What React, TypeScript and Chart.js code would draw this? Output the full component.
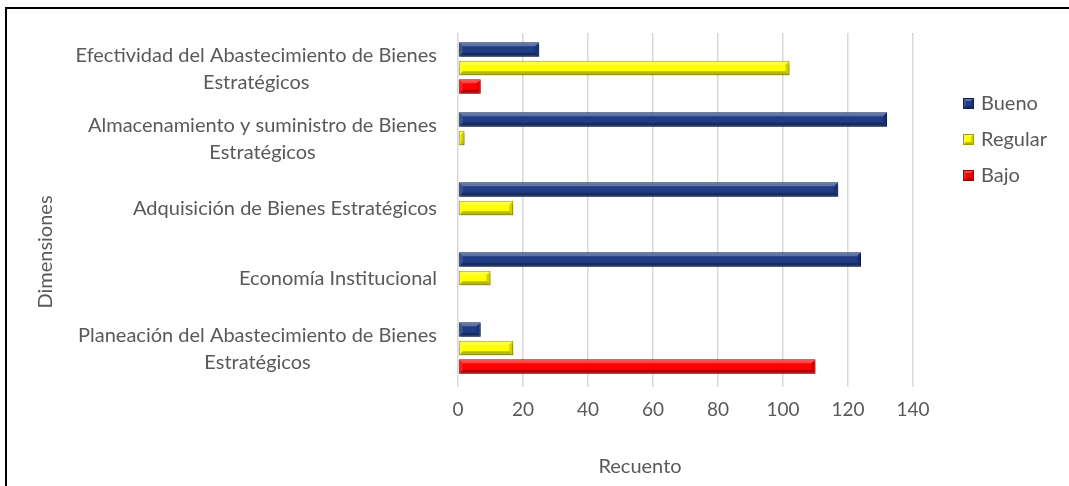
import React, { useEffect, useRef } from "react";
import { Chart, registerables } from "chart.js";

Chart.register(...registerables);

const categories: string[][] = [
  ["Efectividad del Abastecimiento de Bienes", "Estratégicos"],
  ["Almacenamiento y suministro de Bienes", "Estratégicos"],
  ["Adquisición de Bienes Estratégicos"],
  ["Economía Institucional"],
  ["Planeación del Abastecimiento de Bienes", "Estratégicos"],
];
const seriesNames = ["Bueno", "Regular", "Bajo"];
const bueno = [25, 132, 117, 124, 7];
const regular = [102, 2, 17, 10, 17];
const bajo = [7, 0, 0, 0, 110];
const xMin = 0;
const xMax = 140;
const xStep = 20;
const xTitle = "Recuento";
const yTitle = "Dimensiones";

const fills = ["#1F3C85", "#FFFF00", "#FF0000"];
const borders = ["#0E2257", "#9E9E00", "#A30000"];
const TEXT = "#595959";
const FONT = "Lato";
const LABEL_SIZE = 20;

function bevelRect(ctx: CanvasRenderingContext2D, l: number, t: number, r: number, b: number, d: number) {
  ctx.save();
  ctx.fillStyle = "rgba(255,255,255,0.28)";
  ctx.beginPath();
  ctx.moveTo(l, t); ctx.lineTo(r, t); ctx.lineTo(r - d, t + d); ctx.lineTo(l + d, t + d); ctx.closePath(); ctx.fill();
  ctx.fillStyle = "rgba(0,0,0,0.28)";
  ctx.beginPath();
  ctx.moveTo(l, b); ctx.lineTo(r, b); ctx.lineTo(r - d, b - d); ctx.lineTo(l + d, b - d); ctx.closePath(); ctx.fill();
  ctx.fillStyle = "rgba(0,0,0,0.18)";
  ctx.beginPath();
  ctx.moveTo(r, t); ctx.lineTo(r, b); ctx.lineTo(r - d, b - d); ctx.lineTo(r - d, t + d); ctx.closePath(); ctx.fill();
  ctx.fillStyle = "rgba(255,255,255,0.12)";
  ctx.beginPath();
  ctx.moveTo(l, t); ctx.lineTo(l, b); ctx.lineTo(l + d, b - d); ctx.lineTo(l + d, t + d); ctx.closePath(); ctx.fill();
  ctx.restore();
}

const bevelPlugin = {
  id: "bevel",
  beforeDatasetsDraw(chart: any) {
    const ctx = chart.ctx;
    ctx.save();
    ctx.shadowColor = "rgba(0,0,0,0.4)";
    ctx.shadowBlur = 3;
    ctx.shadowOffsetX = 1.5;
    ctx.shadowOffsetY = 2;
  },
  afterDatasetsDraw(chart: any) {
    const ctx = chart.ctx;
    ctx.restore();
    chart.data.datasets.forEach((_ds: any, di: number) => {
      const meta = chart.getDatasetMeta(di);
      meta.data.forEach((el: any) => {
        const { x, y, base, height } = el.getProps(["x", "y", "base", "height"], true);
        const l = Math.min(x, base);
        const r = Math.max(x, base);
        if (r - l < 1) return;
        const t = y - height / 2;
        const b = y + height / 2;
        const d = Math.min(3, (r - l) / 2);
        bevelRect(ctx, l + 1, t + 1, r - 1, b - 1, d);
      });
    });
  },
};

const textPlugin = {
  id: "texts",
  afterDraw(chart: any) {
    const ctx = chart.ctx;
    const ys = chart.scales.y;
    const area = chart.chartArea;
    ctx.save();
    ctx.fillStyle = TEXT;
    ctx.font = `${LABEL_SIZE}px ${FONT}`;
    ctx.textBaseline = "middle";
    ctx.textAlign = "center";
    (chart.data.labels as string[][]).forEach((lab, i) => {
      const lines = Array.isArray(lab) ? lab : [lab];
      const w = Math.max(...lines.map((s) => ctx.measureText(s).width));
      const cx = area.left - 21 - w / 2;
      const cy = ys.getPixelForValue(i);
      const lh = 27;
      lines.forEach((s, k) => ctx.fillText(s, cx, cy + 1 + (k - (lines.length - 1) / 2) * lh));
    });
    ctx.fillText(xTitle, 640, 467);
    ctx.save();
    ctx.translate(46, 252);
    ctx.rotate(-Math.PI / 2);
    ctx.fillText(yTitle, 0, 0);
    ctx.restore();
    ctx.textAlign = "left";
    chart.data.datasets.forEach((ds: any, i: number) => {
      const cy = area.top + 70 + i * 36;
      const bx = area.right + 50;
      ctx.fillStyle = borders[i];
      ctx.fillRect(bx, cy - 5, 11, 11);
      ctx.fillStyle = fills[i];
      ctx.fillRect(bx + 1, cy - 4, 9, 9);
      bevelRect(ctx, bx + 1, cy - 4, bx + 10, cy + 5, 2);
      ctx.fillStyle = TEXT;
      ctx.fillText(ds.label, bx + 18, cy + 1);
    });
    ctx.restore();
  },
};

export default function App() {
  const ref = useRef<HTMLCanvasElement | null>(null);

  useEffect(() => {
    document.body.style.margin = "0";
    document.body.style.overflow = "hidden";
    if (!ref.current) return;
    const values = [bueno, regular, bajo];
    const chart = new Chart(ref.current, {
      type: "bar",
      data: {
        labels: categories as any,
        datasets: seriesNames.map((name, i) => ({
          label: name,
          data: values[i],
          backgroundColor: fills[i],
          borderColor: borders[i],
          borderWidth: 1,
          borderSkipped: false,
          categoryPercentage: 0.795,
          barPercentage: 0.78,
        })),
      },
      options: {
        indexAxis: "y",
        responsive: false,
        animation: false,
        layout: { padding: { top: 33, right: 156, left: 0, bottom: 0 } },
        plugins: {
          legend: { display: false },
          tooltip: { enabled: false },
        },
        scales: {
          x: {
            min: xMin,
            max: xMax,
            ticks: {
              stepSize: xStep,
              color: TEXT,
              font: { family: FONT, size: 19 },
              padding: 11,
            },
            grid: { color: "#D9D9D9", lineWidth: 1.5, tickLength: 4, drawTicks: true },
            border: { display: false },
            afterFit: (s: any) => {
              s.height = 103;
            },
          },
          y: {
            ticks: { display: false },
            grid: { display: false },
            border: { display: false },
            afterFit: (s: any) => {
              s.width = 458;
            },
          },
        },
      },
      plugins: [bevelPlugin, textPlugin],
    } as any);
    return () => chart.destroy();
  }, []);

  return (
    <div style={{ position: "absolute", left: 0, top: 0, width: 1069, height: 486, background: "#fff" }}>
      <canvas ref={ref} width={1069} height={486} style={{ position: "absolute", left: 0, top: 0 }} />
      <div
        style={{
          position: "absolute",
          left: 5,
          top: 7,
          width: 1064,
          height: 479,
          boxSizing: "border-box",
          borderLeft: "2px solid #000",
          borderTop: "2px solid #000",
          pointerEvents: "none",
        }}
      />
    </div>
  );
}
